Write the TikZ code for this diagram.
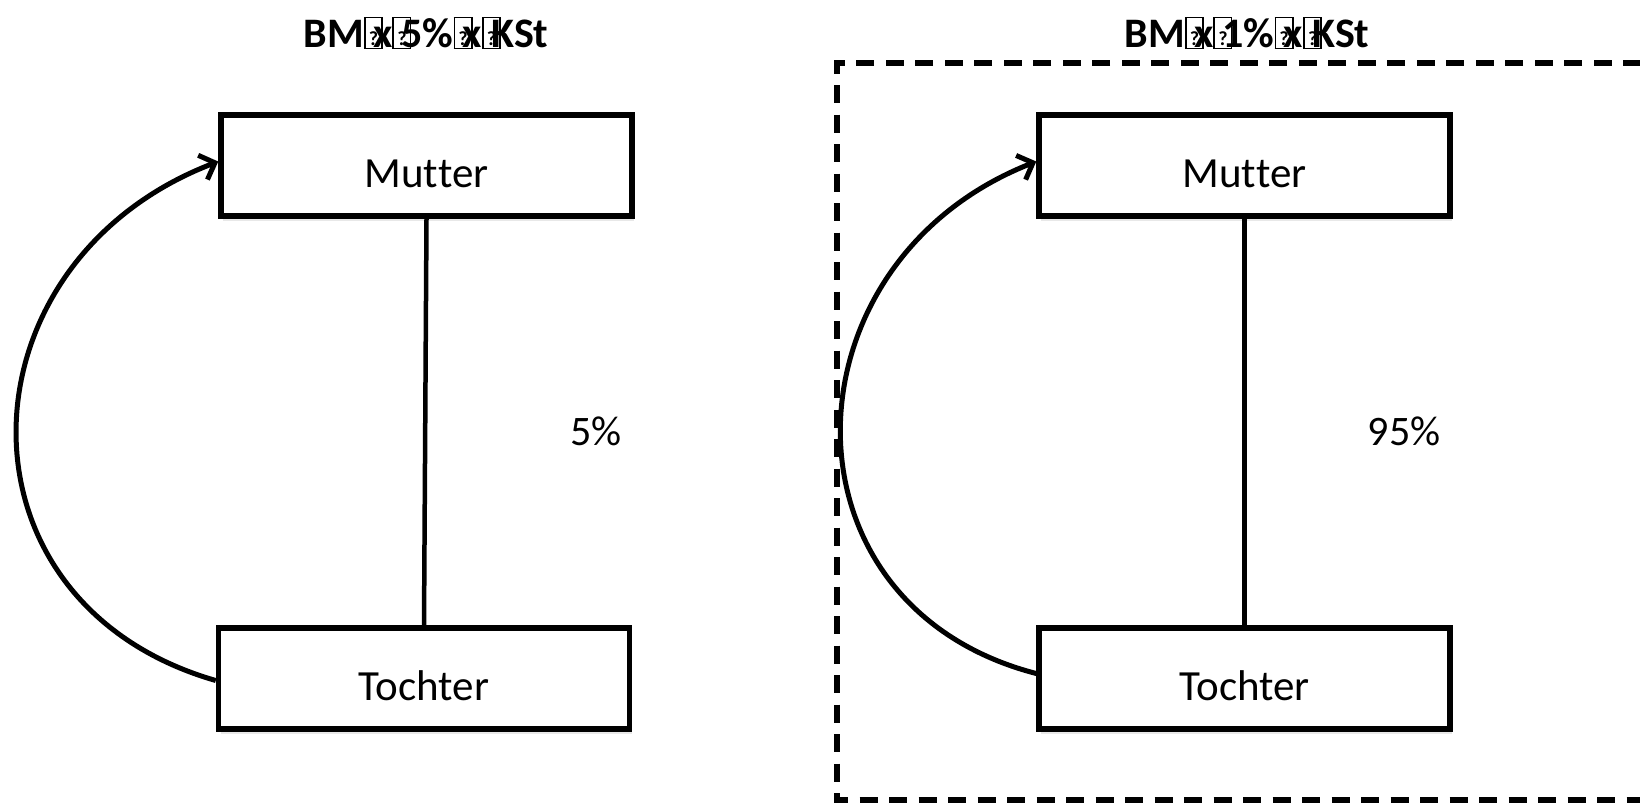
\documentclass[tikz,border=0pt]{standalone}
\usepackage{fontspec}
\setmainfont{Carlito}[Ligatures={NoCommon},RawFeature={-liga;-calt}]
\usetikzlibrary{arrows.meta,calc,shadows}
\newcommand\tofuglyph{\makebox[0.22em][l]{\setlength\fboxsep{0.3pt}\setlength\fboxrule{0.04em}\fbox{\makebox[0.36em]{\rule{0pt}{0.68em}\fontsize{20}{20}\selectfont\raisebox{0.1em}{?}}}}}
\newcommand\lowtext[1]{\raisebox{-22pt}[0pt][0pt]{#1}}
\begin{document}
\begin{tikzpicture}[x=1pt,y=-1pt,
  box/.style={draw,line width=5.5pt,minimum width=411pt,minimum height=101pt,inner sep=0pt,
    font=\fontsize{43}{43}\selectfont,fill=white,
    drop shadow={opacity=0.18,shadow xshift=2pt,shadow yshift=-5pt}},
  conn/.style={line width=4.5pt},
  arc/.style={line width=5pt,-{Straight Barb[length=13pt,width=26pt,line width=5pt]}},
  lbl/.style={font=\fontsize{42}{42}\selectfont},
  ttl/.style={font=\bfseries\fontsize{42}{42}\selectfont},
  frame/.style={line width=5.5pt,dash pattern=on 18pt off 11.5pt}]
\path[use as bounding box] (0,0) rectangle (1640,804);
\clip (0,0) rectangle (1640,804);
% left
\node[ttl] (t1) at (426,33) {BM\tofuglyph x\tofuglyph 5\%\tofuglyph x\tofuglyph KSt};
\node[box] (m1) at (426.5,165.5) {\lowtext{Mu\kern0pt t\kern0pt ter}};
\node[box] (d1) at (424,678.5) {\lowtext{Tochter}};
\draw[conn] (m1.south) -- (d1.north);
\draw[arc] ([yshift=-2pt]d1.west) .. controls ($(d1.west)+(-271,-76)$) and ($(m1.west)+(-263,97)$) .. ([yshift=4pt]m1.west);
\node[lbl] (p1) at (596,431) {5\%};
% right
\node[ttl] (t2) at (1247,33) {BM\tofuglyph x\tofuglyph 1\%\tofuglyph x\tofuglyph KSt};
\coordinate (f1) at (837,63);
\coordinate (f2) at (1700,800);
\draw[frame] (f2 |- f1) -- (f1) -- (f1 |- f2) -- (f2);
\node[box] (m2) at (1244.5,165.5) {\lowtext{Mu\kern0pt t\kern0pt ter}};
\node[box] (d2) at (1244.5,678.5) {\lowtext{Tochter}};
\draw[conn] (m2.south) -- (d2.north);
\draw[arc] ([xshift=4pt,yshift=4pt]d2.west) .. controls ($(d2.west)+(-265,-70)$) and ($(m2.west)+(-257,97)$) .. ([yshift=4pt]m2.west);
\node[lbl] (p2) at (1404,431) {95\%};
\end{tikzpicture}
\end{document}
